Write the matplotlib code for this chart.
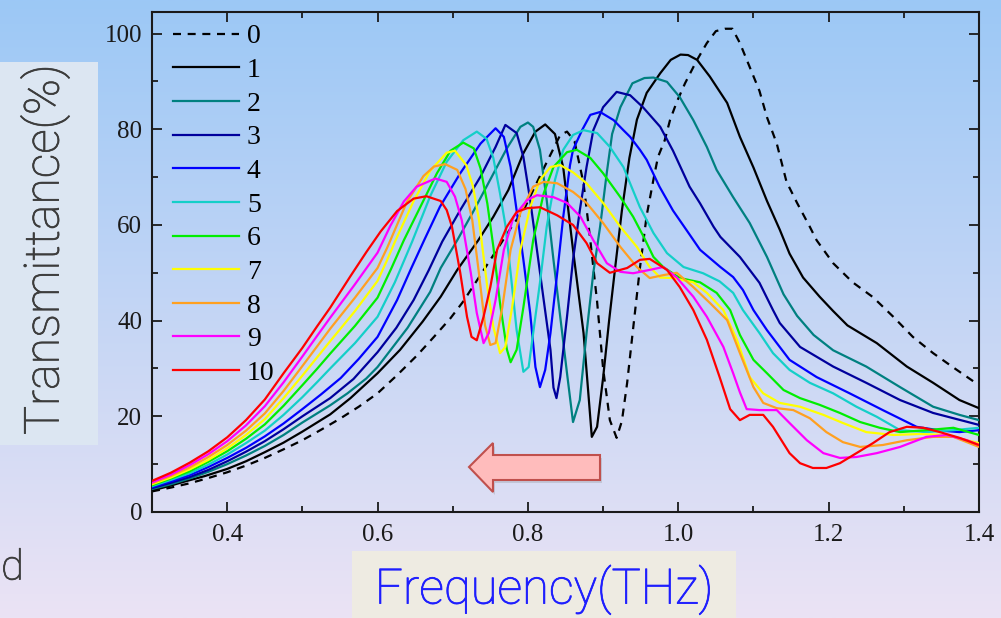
import numpy as np
import matplotlib
matplotlib.use("Agg")
import matplotlib.pyplot as plt
import matplotlib.patheffects as pe
from matplotlib.patches import Polygon, Rectangle
from matplotlib.ticker import MultipleLocator, FormatStrFormatter

# ---- measured transmission spectra: (frequency THz, transmittance %) ----
curve_0 = [(0.30, 4.3), (0.325, 5.1), (0.35, 6.0), (0.375, 7.1), (0.40, 8.3), (0.425, 9.7), (0.45, 11.3),
           (0.475, 13.1), (0.50, 15.0), (0.525, 17.2), (0.55, 19.5), (0.575, 22.0), (0.60, 24.8),
           (0.626, 28.6), (0.653, 32.8), (0.675, 36.6), (0.697, 40.5), (0.714, 44.0), (0.75, 52.7), (0.78, 60.0),
           (0.794, 63.0), (0.82, 71.5), (0.843, 78.8), (0.852, 79.5), (0.862, 77.5), (0.874, 68.7), (0.883, 56.8),
           (0.892, 44.0), (0.90, 30.0), (0.909, 19.2), (0.918, 15.5), (0.925, 19.0), (0.932, 27.0), (0.939, 37.0),
           (0.949, 51.0), (0.958, 62.0), (0.967, 69.5), (0.973, 74.2), (0.982, 77.7), (0.989, 81.9), (0.998, 85.7),
           (1.009, 89.6), (1.025, 94.5), (1.038, 98.0), (1.05, 100.5), (1.062, 101.0), (1.072, 101.0), (1.082, 98.0),
           (1.095, 93.0), (1.108, 88.0), (1.118, 82.5), (1.131, 77.0), (1.144, 69.0), (1.158, 64.6), (1.175, 59.6),
           (1.184, 56.8), (1.206, 52.0), (1.232, 48.0), (1.259, 44.9), (1.286, 40.8), (1.312, 36.6), (1.339, 33.2),
           (1.365, 30.3), (1.40, 26.5)]

curve_1 = [(0.30, 4.5), (0.32, 5.3), (0.342, 6.3), (0.37, 7.5), (0.40, 9.0), (0.425, 10.6), (0.45, 12.5),
           (0.475, 14.5), (0.50, 16.8), (0.537, 20.4), (0.564, 23.8), (0.60, 29.0), (0.63, 33.9), (0.66, 39.8),
           (0.684, 45.0), (0.706, 50.6), (0.734, 56.8), (0.754, 61.7),
           (0.774, 67.3), (0.794, 75.0), (0.81, 79.5), (0.823, 81.0), (0.836, 79.0), (0.847, 72.0), (0.86, 54.8),
           (0.874, 37.4), (0.885, 15.7), (0.892, 17.8), (0.90, 28.0), (0.908, 40.0), (0.916, 51.0), (0.925, 63.0),
           (0.935, 74.0), (0.945, 82.0), (0.958, 87.6), (0.976, 91.7), (0.99, 94.5), (1.003, 95.6), (1.013, 95.5),
           (1.025, 94.5), (1.042, 91.0), (1.065, 85.5), (1.082, 78.4), (1.10, 72.0), (1.118, 65.0), (1.135, 59.0),
           (1.148, 54.0), (1.166, 49.0), (1.188, 45.0), (1.206, 42.0), (1.225, 39.0), (1.264, 35.3), (1.304, 30.4),
           (1.339, 27.0), (1.374, 23.4), (1.40, 21.7)]

curve_2 = [(0.30, 4.8), (0.325, 5.8), (0.35, 7.0), (0.375, 8.4), (0.40, 10.0), (0.425, 11.8), (0.45, 13.8),
           (0.475, 16.1), (0.50, 18.7), (0.537, 22.3), (0.56, 24.8), (0.585, 27.9),
           (0.60, 30.3), (0.64, 38.5), (0.67, 46.0), (0.684, 51.0), (0.706, 56.8), (0.728, 63.0), (0.75, 69.5),
           (0.772, 76.0), (0.79, 80.5), (0.80, 81.4), (0.807, 80.5), (0.816, 75.7), (0.825, 65.2), (0.834, 52.7),
           (0.843, 40.8), (0.852, 29.0), (0.86, 18.8), (0.869, 23.4), (0.878, 37.4), (0.887, 50.0), (0.896, 59.6),
           (0.905, 71.0), (0.912, 79.0), (0.923, 84.6), (0.939, 89.6), (0.955, 90.7), (0.967, 90.8), (0.985, 89.9),
           (1.002, 86.7), (1.02, 81.9), (1.038, 76.3), (1.051, 71.5), (1.073, 65.8), (1.095, 60.4), (1.118, 53.3),
           (1.14, 45.5), (1.158, 41.0), (1.18, 37.0), (1.206, 33.8), (1.25, 30.4), (1.295, 26.1), (1.339, 22.0),
           (1.374, 20.3), (1.40, 19.2)]

curve_3 = [(0.30, 5.0), (0.325, 6.1), (0.35, 7.3), (0.375, 8.8), (0.40, 10.6), (0.425, 12.6), (0.45, 14.8),
           (0.475, 17.3), (0.50, 20.0), (0.537, 23.8), (0.568, 27.8),
           (0.60, 33.4), (0.625, 38.5), (0.648, 44.3), (0.668, 50.5), (0.686, 56.5), (0.71, 63.1), (0.737, 70.1),
           (0.757, 76.3), (0.77, 80.9),
           (0.785, 79.2), (0.794, 74.2), (0.803, 65.2), (0.812, 54.8), (0.821, 44.3), (0.83, 33.9), (0.834, 26.0),
           (0.838, 23.8), (0.843, 28.2), (0.852, 40.8), (0.86, 52.7), (0.869, 63.0), (0.878, 72.1), (0.887, 79.8),
           (0.90, 84.6), (0.918, 87.8), (0.936, 87.1), (0.953, 84.6), (0.976, 80.5), (0.993, 75.5), (1.015, 68.0),
           (1.029, 64.5), (1.047, 59.6), (1.056, 57.5), (1.082, 53.3), (1.108, 47.9), (1.126, 42.2), (1.135, 39.5),
           (1.162, 34.5), (1.206, 30.4), (1.25, 27.0), (1.295, 23.4), (1.339, 20.7), (1.40, 18.2)]

curve_4 = [(0.30, 5.2), (0.325, 6.4), (0.35, 7.7), (0.375, 9.4), (0.40, 11.3), (0.425, 13.4), (0.45, 15.8),
           (0.475, 18.5), (0.50, 21.5), (0.525, 24.6), (0.551, 28.0), (0.575, 32.0), (0.60, 36.6),
           (0.626, 44.3), (0.645, 51.0), (0.662, 56.8), (0.683, 63.8), (0.71, 70.8), (0.737, 77.0), (0.757, 80.2),
           (0.768, 78.4),
           (0.777, 72.1), (0.785, 63.0), (0.794, 52.7), (0.803, 41.6), (0.81, 30.3), (0.816, 26.1), (0.823, 29.7),
           (0.83, 37.4), (0.839, 50.0), (0.847, 61.7), (0.856, 72.5), (0.86, 75.7), (0.872, 79.8), (0.883, 83.0),
           (0.896, 83.6), (0.914, 81.9), (0.927, 79.8), (0.936, 78.4), (0.949, 75.7), (0.958, 73.6), (0.975, 68.0),
           (0.993, 63.0), (1.015, 58.0), (1.029, 54.8), (1.056, 51.2), (1.073, 49.1), (1.086, 46.4), (1.10, 42.2),
           (1.118, 38.0), (1.148, 31.8), (1.184, 28.2), (1.228, 24.8), (1.272, 21.3), (1.317, 17.8), (1.35, 17.0),
           (1.374, 16.7), (1.40, 17.1)]

curve_5 = [(0.30, 5.4), (0.325, 6.7), (0.35, 8.1), (0.375, 9.9), (0.40, 12.0), (0.425, 14.4), (0.45, 17.0),
           (0.475, 20.3), (0.50, 24.0), (0.52, 27.2), (0.537, 30.0), (0.57, 35.3), (0.60, 40.8),
           (0.623, 48.0), (0.646, 56.5), (0.67, 66.0), (0.692, 73.2), (0.714, 77.7), (0.732, 79.5), (0.745, 78.0),
           (0.754, 74.0),
           (0.763, 66.5), (0.77, 60.0), (0.777, 50.0), (0.785, 38.0), (0.794, 29.3), (0.801, 30.3), (0.807, 37.4),
           (0.816, 47.9), (0.825, 59.6), (0.836, 69.4), (0.847, 75.7), (0.86, 78.8), (0.874, 79.8), (0.892, 79.2),
           (0.909, 76.3), (0.927, 72.1), (0.949, 63.7), (0.967, 58.3), (0.985, 54.1), (1.007, 51.2), (1.033, 49.9),
           (1.055, 48.2), (1.073, 45.8), (1.086, 42.2), (1.108, 37.4), (1.126, 33.2), (1.148, 29.7), (1.175, 27.0),
           (1.206, 24.8), (1.237, 22.0), (1.264, 19.9), (1.295, 17.1), (1.33, 16.7), (1.366, 17.1), (1.40, 17.6)]

curve_6 = [(0.30, 5.6), (0.325, 7.0), (0.35, 8.5), (0.375, 10.5), (0.40, 12.7), (0.425, 15.3), (0.45, 18.3),
           (0.475, 22.2), (0.50, 26.5), (0.52, 30.0), (0.537, 33.1), (0.57, 38.9), (0.60, 44.8),
           (0.618, 50.8), (0.635, 56.8), (0.657, 63.8), (0.679, 70.8), (0.697, 75.5), (0.714, 77.2), (0.728, 76.0),
           (0.737, 71.8),
           (0.746, 64.5), (0.754, 55.5), (0.763, 43.5), (0.772, 34.0), (0.777, 31.3), (0.785, 33.9), (0.794, 42.8),
           (0.807, 56.8), (0.821, 66.6), (0.834, 72.1), (0.852, 75.2), (0.865, 75.7), (0.883, 74.0), (0.90, 70.8),
           (0.923, 65.8), (0.94, 61.7), (0.954, 57.5), (0.967, 53.3), (0.98, 51.2), (1.002, 48.9), (1.029, 48.0),
           (1.051, 45.8), (1.069, 42.2), (1.082, 37.0), (1.10, 31.8), (1.118, 29.0), (1.14, 25.5), (1.162, 23.8),
           (1.188, 22.4), (1.215, 20.7), (1.242, 18.8), (1.268, 17.6), (1.295, 16.7), (1.33, 17.1), (1.366, 17.6),
           (1.40, 16.1)]

curve_7 = [(0.30, 5.8), (0.325, 7.2), (0.35, 8.9), (0.375, 10.9), (0.40, 13.3), (0.425, 16.1), (0.45, 19.4),
           (0.475, 23.8), (0.50, 28.5), (0.52, 32.4), (0.537, 35.7), (0.57, 42.0), (0.60, 48.3),
           (0.612, 52.4), (0.624, 56.8), (0.648, 65.0), (0.67, 71.3), (0.692, 75.1), (0.703, 75.5), (0.718, 72.5),
           (0.727, 68.0),
           (0.735, 61.0), (0.746, 47.0), (0.754, 38.7), (0.763, 33.2), (0.77, 34.5), (0.779, 42.8), (0.79, 54.8),
           (0.803, 63.7), (0.816, 69.4), (0.83, 72.1), (0.843, 72.5), (0.86, 71.0), (0.878, 68.7), (0.90, 64.6),
           (0.923, 59.6), (0.945, 55.4), (0.962, 51.2), (0.976, 49.0), (0.993, 48.9), (1.02, 48.0), (1.038, 45.8),
           (1.06, 42.2), (1.078, 36.0), (1.095, 28.2), (1.113, 24.8), (1.135, 22.8), (1.162, 22.0), (1.193, 20.3),
           (1.219, 18.6), (1.25, 16.7), (1.286, 16.1), (1.321, 16.3), (1.357, 16.1), (1.384, 15.0), (1.40, 14.4)]

curve_8 = [(0.30, 6.0), (0.325, 7.5), (0.35, 9.3), (0.375, 11.5), (0.40, 14.0), (0.425, 17.0), (0.45, 20.6),
           (0.475, 25.3), (0.50, 30.5), (0.52, 34.7), (0.537, 38.3), (0.57, 44.8), (0.60, 51.0),
           (0.613, 55.3), (0.639, 64.8), (0.661, 70.2), (0.675, 72.2), (0.69, 72.7), (0.706, 71.5), (0.717, 67.5),
           (0.726, 61.0), (0.734, 51.0), (0.743, 39.0), (0.75, 34.9), (0.757, 35.3), (0.766, 42.8), (0.777, 54.8),
           (0.79, 62.5), (0.807, 68.0), (0.821, 69.0), (0.839, 68.7), (0.86, 66.9), (0.878, 64.6), (0.90, 60.4),
           (0.923, 55.4), (0.945, 51.2), (0.962, 48.9), (0.98, 49.5), (0.998, 50.0), (1.02, 47.0), (1.042, 43.7),
           (1.065, 40.1), (1.082, 33.2), (1.10, 26.1), (1.113, 22.8), (1.131, 21.7), (1.153, 21.3), (1.175, 19.6),
           (1.197, 16.7), (1.219, 14.6), (1.242, 13.6), (1.272, 14.0), (1.304, 15.0), (1.339, 15.7), (1.366, 15.7),
           (1.40, 13.6)]

curve_9 = [(0.30, 6.2), (0.325, 7.8), (0.35, 9.8), (0.375, 12.1), (0.40, 14.8), (0.425, 18.1), (0.45, 22.1),
           (0.475, 27.1), (0.50, 32.5), (0.52, 36.9), (0.537, 40.6), (0.57, 47.6), (0.60, 54.2),
           (0.617, 59.8), (0.635, 64.9), (0.652, 68.0), (0.677, 69.7), (0.692, 69.0), (0.703, 65.9), (0.712, 61.0),
           (0.724, 50.0), (0.732, 41.6), (0.741, 35.3), (0.748, 37.4), (0.757, 44.3), (0.768, 54.8), (0.781, 61.7),
           (0.799, 65.2), (0.812, 66.2), (0.834, 65.8), (0.852, 64.6), (0.87, 61.7), (0.887, 56.8), (0.905, 52.0),
           (0.923, 50.2), (0.94, 49.9), (0.962, 50.6), (0.98, 51.2), (0.998, 49.0), (1.02, 45.0), (1.038, 40.8),
           (1.06, 34.5), (1.073, 29.0), (1.082, 25.0), (1.091, 21.5), (1.108, 21.3), (1.131, 21.3), (1.148, 18.6),
           (1.171, 15.0), (1.193, 12.3), (1.215, 11.3), (1.237, 11.5), (1.264, 12.3), (1.295, 13.6), (1.33, 15.7),
           (1.357, 16.1), (1.384, 15.0), (1.40, 14.0)]

curve_10 = [(0.30, 6.5), (0.325, 8.2), (0.35, 10.3), (0.375, 12.7), (0.40, 15.6), (0.425, 19.2), (0.45, 23.5),
            (0.475, 29.0), (0.50, 34.3), (0.52, 38.9), (0.537, 42.7), (0.564, 49.3), (0.585, 54.3),
            (0.604, 58.6), (0.626, 62.9), (0.648, 65.5), (0.665, 66.0), (0.684, 65.0), (0.692, 63.1), (0.699, 59.6),
            (0.71, 50.0), (0.719, 40.8), (0.725, 36.6), (0.732, 35.9), (0.741, 40.8), (0.75, 47.0), (0.759, 54.8),
            (0.772, 59.6), (0.785, 62.7), (0.799, 63.5), (0.816, 63.7), (0.839, 62.0), (0.86, 60.0), (0.878, 56.2),
            (0.892, 52.0), (0.909, 50.0), (0.932, 51.0), (0.949, 52.7), (0.962, 52.9), (0.985, 50.6), (1.002, 47.0),
            (1.02, 42.2), (1.038, 36.0), (1.055, 28.2), (1.069, 21.5), (1.082, 19.2), (1.095, 20.3), (1.113, 20.3),
            (1.126, 17.8), (1.148, 12.3), (1.162, 10.2), (1.179, 9.2), (1.197, 9.2), (1.215, 10.2), (1.237, 12.3),
            (1.259, 14.4), (1.281, 16.7), (1.304, 17.8), (1.326, 17.6), (1.348, 16.7), (1.374, 15.5), (1.40, 14.0)]

curves = [curve_0, curve_1, curve_2, curve_3, curve_4, curve_5,
          curve_6, curve_7, curve_8, curve_9, curve_10]
labels = ["0", "1", "2", "3", "4", "5", "6", "7", "8", "9", "10"]
colors = ["black", "black", "#008080", "#00009c", "#0000ff", "#14cfc8",
          "#00ee00", "#ffff00", "#ffa020", "#ff00ff", "#ff0000"]

x_ticks = [0.4, 0.6, 0.8, 1.0, 1.2, 1.4]
y_ticks = [0, 20, 40, 60, 80, 100]

W, H = 1001, 618
fig = plt.figure(figsize=(W / 100, H / 100), dpi=100)


def px(x, y):
    """pixel position (from top-left) -> figure fraction"""
    return x / W, 1 - y / H


# vertical background gradient
bg = fig.add_axes([0, 0, 1, 1], zorder=-10)
bg.axis("off")
c_top = np.array([0x9c, 0xc8, 0xf6]) / 255
c_bot = np.array([0xeb, 0xe3, 0xf4]) / 255
t = np.linspace(0, 1, 300)[:, None]
grad = c_top * (1 - t) + c_bot * t
bg.imshow(grad[:, None, :], aspect="auto", extent=[0, 1, 0, 1], interpolation="bilinear")
bg.set_xlim(0, 1)
bg.set_ylim(0, 1)

serif = ["Liberation Serif", "DejaVu Serif"]

ax = fig.add_axes([152 / W, 1 - 512 / H, 827 / W, 500 / H])
ax.patch.set_alpha(0)

for i, (pts, lab, col) in enumerate(zip(curves, labels, colors)):
    f = [p[0] for p in pts]
    v = [p[1] for p in pts]
    if i == 0:
        ax.plot(f, v, color=col, lw=1.6, linestyle=(0, (3.6, 3.0)), label=lab, zorder=2)
    else:
        ax.plot(f, v, color=col, lw=1.6, label=lab, zorder=2 + i, solid_joinstyle="round")

ax.set_xlim(0.3, 1.4)
ax.set_ylim(0, 104.5)
ax.set_xticks(x_ticks)
ax.set_yticks(y_ticks)
ax.xaxis.set_minor_locator(MultipleLocator(0.1))
ax.yaxis.set_minor_locator(MultipleLocator(10))
ax.xaxis.set_major_formatter(FormatStrFormatter("%.1f"))
ax.tick_params(which="both", direction="in", top=True, right=True, width=1.3,
               colors="#1a1a1a", labelsize=18)
ax.tick_params(axis="x", which="both", pad=8.5)
ax.tick_params(axis="y", which="both", pad=7)
ax.tick_params(which="major", length=7)
ax.tick_params(which="minor", length=4)
for lbl in ax.get_xticklabels() + ax.get_yticklabels():
    lbl.set_family(serif)
for s in ax.spines.values():
    s.set_linewidth(1.5)
    s.set_color("#1a1a1a")

leg = ax.legend(loc="upper left", bbox_to_anchor=(0.025, 0.976), frameon=False,
                prop={"family": serif, "size": 20}, handlelength=2.37, handletextpad=0.3,
                labelspacing=0.295, borderaxespad=0, borderpad=0)

# axis title panels
fig.patches.append(Rectangle(px(0, 445), 98 / W, 383 / H, transform=fig.transFigure,
                             facecolor="#dce6f2", edgecolor="none", zorder=0))
fig.patches.append(Rectangle(px(352, 618), 384 / W, 67 / H, transform=fig.transFigure,
                             facecolor="#eeebe2", edgecolor="none", zorder=0))

sans = ["Roboto", "DejaVu Sans"]
grey, blue = "#3c3c3c", "#1e1eff"
stroke = 0.55
ylab = fig.text(*px(45, 250), "Transmittance(%)", rotation=90, ha="center", va="center",
                fontsize=30, color=grey, family=sans, fontweight="light",
                path_effects=[pe.withStroke(linewidth=stroke, foreground=grey)])
xlab = fig.text(*px(544, 590), "Frequency(THz)", ha="center", va="center",
                fontsize=30, color=blue, family=sans, fontweight="light",
                path_effects=[pe.withStroke(linewidth=stroke, foreground=blue)])
fig.text(*px(1, 568), "d", ha="left", va="center", fontsize=30, color=grey,
         family=sans, fontweight="light",
         path_effects=[pe.withStroke(linewidth=stroke, foreground=grey)])

# scale the titles to their panel lengths
fig.canvas.draw()
r = fig.canvas.get_renderer()
for txt, target, vertical in ((ylab, 370, True), (xlab, 338, False)):
    bb = txt.get_window_extent(r)
    cur = bb.height if vertical else bb.width
    txt.set_fontsize(txt.get_fontsize() * target / cur)

# left-pointing arrow
arrow_pts = [(469, 467), (493, 443), (493, 455), (600, 455), (600, 480), (493, 480), (493, 492)]
shadow = Polygon([px(x + 2, y + 3) for x, y in arrow_pts], closed=True, transform=fig.transFigure,
                 facecolor="#808080", edgecolor="none", alpha=0.25, zorder=5)
arrow = Polygon([px(x, y) for x, y in arrow_pts], closed=True, transform=fig.transFigure,
                facecolor="#ffbcbc", edgecolor="#c0504d", lw=1.5, zorder=6)
fig.patches.extend([shadow, arrow])

fig.savefig("out.png", dpi=100)
